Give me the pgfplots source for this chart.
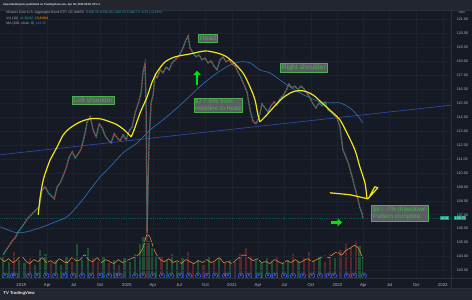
\documentclass[border=0pt]{standalone}
\usepackage{pgfplots}
\pgfplotsset{compat=1.18}
\usepackage{pgfplotstable}
\usepackage{fontspec}
\setmainfont{Liberation Sans}
\usetikzlibrary{arrows.meta}

\definecolor{pagebg}{HTML}{23262F}
\definecolor{chartbg}{HTML}{161A25}
\definecolor{gridc}{HTML}{1E222D}
\definecolor{sepc}{HTML}{2A2E39}
\definecolor{txtc}{HTML}{B2B5BE}
\definecolor{upc}{HTML}{26A69A}
\definecolor{dnc}{HTML}{EF5350}
\definecolor{mac}{HTML}{2E6AB3}
\definecolor{neckc}{HTML}{2F46A6}
\definecolor{yel}{HTML}{F2E61B}
\definecolor{annbg}{HTML}{62666A}
\definecolor{anntxt}{HTML}{4CAF50}
\definecolor{arrg}{HTML}{00E600}
\definecolor{volup}{HTML}{1E6B3A}
\definecolor{voldn}{HTML}{7A2A2E}
\definecolor{volma}{HTML}{E08A3C}
\definecolor{divc}{HTML}{2962FF}
\definecolor{divfill}{HTML}{131A3A}
\definecolor{lastc}{HTML}{089981}
\definecolor{orangev}{HTML}{FF9800}
\definecolor{bluev}{HTML}{3D7FE0}

\pgfplotstableread{
t v
2018.829 104.14
2018.858 104.50
2018.886 104.79
2018.915 105.14
2018.943 105.36
2018.972 105.79
2019.000 106.07
2019.028 106.36
2019.057 106.71
2019.085 106.93
2019.114 107.14
2019.142 107.36
2019.171 107.57
2019.199 108.79
2019.228 109.00
2019.256 108.57
2019.284 108.36
2019.313 108.14
2019.341 109.00
2019.370 109.29
2019.398 109.79
2019.427 110.36
2019.455 111.14
2019.483 111.50
2019.512 111.07
2019.540 111.36
2019.569 111.71
2019.597 112.57
2019.626 113.64
2019.654 114.00
2019.682 113.07
2019.711 112.57
2019.739 113.50
2019.768 113.21
2019.796 112.64
2019.825 112.36
2019.853 112.14
2019.882 112.79
2019.910 112.50
2019.938 112.29
2019.967 112.71
2019.995 112.36
2020.024 113.00
2020.052 113.29
2020.081 114.29
2020.109 114.93
2020.137 115.71
2020.156 117.21
2020.175 117.86
2020.185 114.50
2020.194 105.71
2020.213 112.36
2020.232 115.00
2020.251 115.57
2020.270 117.00
2020.289 116.79
2020.318 117.36
2020.346 117.14
2020.374 117.57
2020.403 117.36
2020.431 117.86
2020.460 118.07
2020.488 118.29
2020.517 118.64
2020.545 119.14
2020.564 119.50
2020.583 119.79
2020.602 118.93
2020.630 118.57
2020.659 118.29
2020.687 118.43
2020.716 118.07
2020.744 118.21
2020.773 117.86
2020.801 118.00
2020.829 117.64
2020.858 117.36
2020.886 118.07
2020.915 118.29
2020.943 117.93
2020.972 118.07
2021.000 117.79
2021.028 117.64
2021.057 117.21
2021.085 116.79
2021.114 116.29
2021.142 115.79
2021.171 114.50
2021.199 113.71
2021.227 113.50
2021.256 113.93
2021.284 114.93
2021.313 114.64
2021.341 114.36
2021.370 114.79
2021.398 115.07
2021.427 114.86
2021.455 115.29
2021.483 115.50
2021.512 115.86
2021.540 116.36
2021.569 116.07
2021.597 116.21
2021.626 115.93
2021.654 116.21
2021.682 116.00
2021.711 115.71
2021.739 115.36
2021.768 114.93
2021.796 114.64
2021.825 115.00
2021.853 114.79
2021.882 115.07
2021.910 114.50
2021.938 114.36
2021.967 114.14
2021.995 113.93
2022.024 113.29
2022.052 111.64
2022.081 111.14
2022.109 110.57
2022.137 109.79
2022.166 108.93
2022.194 108.14
2022.213 107.50
2022.232 107.14
2022.242 106.75
}\price

\pgfplotstableread{
t v
2018.801 106.14
2018.867 105.93
2018.962 105.71
2019.057 105.79
2019.180 106.07
2019.303 106.43
2019.436 106.86
2019.559 107.86
2019.654 108.79
2019.749 109.71
2019.844 110.43
2019.967 111.43
2020.100 112.14
2020.223 113.07
2020.346 113.79
2020.479 114.64
2020.602 115.50
2020.725 116.36
2020.858 117.14
2020.981 117.71
2021.076 117.93
2021.171 117.86
2021.265 117.36
2021.360 117.14
2021.455 116.64
2021.550 116.14
2021.645 115.71
2021.739 115.36
2021.834 115.07
2021.929 115.00
2022.024 115.00
2022.118 114.64
2022.194 114.07
2022.242 113.55
}\ma

\pgfplotstableread{
t v
2019.161 107.00
2019.180 108.29
2019.209 109.50
2019.246 110.36
2019.275 110.93
2019.341 111.86
2019.398 112.71
2019.464 113.21
2019.559 113.64
2019.654 113.86
2019.749 113.86
2019.844 113.64
2019.910 113.43
2019.976 113.07
2020.043 112.57
}\yelA

\pgfplotstableread{
t v
2020.043 112.57
2020.071 113.07
2020.128 114.29
2020.194 115.43
2020.242 116.50
2020.289 117.21
2020.365 117.93
2020.460 118.29
2020.602 118.50
2020.744 118.71
2020.858 118.57
2020.934 118.36
2021.009 117.93
2021.104 117.14
2021.171 116.14
2021.218 115.21
2021.246 114.14
2021.265 113.64
}\yelB

\pgfplotstableread{
t v
2021.265 113.64
2021.313 114.00
2021.389 114.64
2021.483 115.36
2021.578 115.79
2021.673 115.86
2021.768 115.57
2021.863 114.93
2021.957 114.29
2022.024 113.79
2022.090 112.86
2022.166 111.64
2022.213 110.43
2022.261 109.29
2022.280 108.21
}\yelC

\pgfplotstableread{
t v
2021.929 108.57
2022.118 108.43
2022.289 108.14
2022.384 108.93
2022.355 109.00
2022.308 108.36
}\yelD

\pgfplotstableread{
t vol
2018.83 12
2018.88 9
2018.98 10
2019.03 8
2019.13 7
2019.18 15
2019.23 13
2019.33 10
2019.38 7
2019.43 12
2019.53 18
2019.58 10
2019.63 16
2019.78 12
2019.88 10
2019.98 11
2020.03 9
2020.08 13
2020.13 18
2020.16 22
2020.21 20
2020.24 16
2020.28 12
2020.38 10
2020.43 13
2020.48 9
2020.53 11
2020.68 10
2020.78 12
2020.88 11
2020.98 10
2021.23 10
2021.28 8
2021.33 11
2021.38 9
2021.48 8
2021.53 10
2021.63 9
2021.83 12
2021.98 11
2022.21 17
2022.24 12
}\volUp

\pgfplotstableread{
t vol
2018.93 14
2019.08 11
2019.28 8
2019.48 9
2019.68 11
2019.73 9
2019.83 8
2019.93 7
2020.19 27
2020.33 12
2020.58 14
2020.63 8
2020.73 7
2020.83 9
2020.93 8
2021.03 9
2021.08 13
2021.13 16
2021.18 12
2021.43 12
2021.58 13
2021.68 11
2021.73 14
2021.78 10
2021.88 9
2021.93 13
2022.03 15
2022.08 18
2022.13 16
2022.18 20
}\volDn

\pgfplotstableread{
t vol
2018.80 11
2018.84 9
2018.88 10.5
2018.92 8.5
2018.96 10
2019.00 12
2019.04 9.5
2019.08 8
2019.12 10
2019.16 9
2019.20 11
2019.24 8.5
2019.28 9.5
2019.32 8
2019.36 10.5
2019.40 9
2019.44 8.5
2019.48 11
2019.52 9.5
2019.56 10
2019.60 12.5
2019.64 10
2019.68 9
2019.72 11
2019.76 8.5
2019.80 10
2019.84 9
2019.88 8
2019.92 10
2019.96 8.5
2020.00 9.5
2020.04 10.5
2020.08 11.5
2020.12 13
2020.16 17
2020.19 23
2020.22 22
2020.25 17
2020.28 13
2020.32 10
2020.36 9
2020.40 10.5
2020.44 8.5
2020.48 9.5
2020.52 8
2020.56 10
2020.60 9
2020.64 8
2020.68 9.5
2020.72 8.5
2020.76 10
2020.80 8.5
2020.84 9.5
2020.88 11
2020.92 8.5
2020.96 9
2021.00 8
2021.04 10
2021.08 11.5
2021.12 12.5
2021.16 11
2021.20 9.5
2021.24 10.5
2021.28 8.5
2021.32 9
2021.36 8
2021.40 10
2021.44 9
2021.48 8
2021.52 9.5
2021.56 8.5
2021.60 10
2021.64 8.5
2021.68 9.5
2021.72 10.5
2021.76 9
2021.80 10
2021.84 11
2021.88 12
2021.92 11
2021.96 13
2022.00 14
2022.04 12.5
2022.08 15
2022.12 16
2022.16 17.5
2022.20 16
2022.24 10.8
}\volMA

\pgfplotstableread{
t v
2018.848 102.64
2018.921 102.64
2018.943 102.64
2019.076 102.64
2019.152 102.64
2019.237 102.64
2019.322 102.64
2019.408 102.64
2019.493 102.64
2019.578 102.64
2019.664 102.64
2019.749 102.64
2019.834 102.64
2019.910 102.64
2019.934 102.64
2020.081 102.64
2020.156 102.64
2020.251 102.64
2020.336 102.64
2020.422 102.64
2020.507 102.64
2020.592 102.64
2020.678 102.64
2020.763 102.64
2020.839 102.64
2020.934 102.64
2020.962 102.64
2021.085 102.64
2021.161 102.64
2021.256 102.64
2021.341 102.64
2021.408 102.64
2021.493 102.64
2021.578 102.64
2021.673 102.64
2021.758 102.64
2021.834 102.64
2021.919 102.64
2021.967 102.64
2022.090 102.64
2022.156 102.64
2022.251 102.64
}\divs

\begin{document}
\begin{tikzpicture}[x=1pt,y=1pt]
\fill[pagebg] (0,0) rectangle (472,300);
\fill[chartbg] (0,11) rectangle (472,290);

% volume pane
\begin{axis}[at={(0pt,21pt)}, anchor=south west, scale only axis,
  width=452pt, height=269pt,
  xmin=2018.801, xmax=2023.085, ymin=0, ymax=141.6, hide axis]
\addplot[ycomb, volup, line width=2.2pt, opacity=0.7] table[x=t,y=vol] {\volUp};
\addplot[ycomb, voldn, line width=2.2pt, opacity=0.7] table[x=t,y=vol] {\volDn};
\addplot[volma, line width=0.6pt, smooth] table[x=t,y=vol] {\volMA};
\end{axis}

% price pane
\begin{axis}[at={(0pt,21pt)}, anchor=south west, scale only axis,
  width=452pt, height=269pt,
  xmin=2018.801, xmax=2023.085, ymin=102.429, ymax=121.643,
  axis line style={draw=none},
  scaled x ticks=false, scaled y ticks=false,
  xtick={2019,2019.247,2019.496,2019.748,2020,2020.249,2020.497,2020.749,2021,2021.247,2021.496,2021.748,2022,2022.247,2022.496,2022.748,2023},
  xticklabels={2019,Apr,Jul,Oct,2020,Apr,Jul,Oct,2021,Apr,Jul,Oct,2022,Apr,Jul,Oct,2023},
  ytick={103,104,...,121},
  yticklabel pos=right,
  /pgf/number format/assume math mode=true,
  y tick label style={/pgf/number format/.cd, fixed, fixed zerofill, precision=2, /tikz/.cd,
     font=\fontsize{3.7}{4}\selectfont, text=txtc, xshift=1.6pt},
  x tick label style={font=\fontsize{4.3}{5}\selectfont, text=txtc, yshift=-1.2pt},
  major tick length=0pt,
  grid=major, major grid style={gridc, line width=0.5pt},
  clip marker paths=false,
]
\addplot[neckc, line width=0.7pt] coordinates {(2018.801,111.29) (2023.085,114.84)};
\addplot[mac, line width=0.7pt, smooth] table[x=t,y=v] {\ma};
\addplot[lastc, line width=0.4pt, dash pattern=on 0.6pt off 1.2pt, opacity=0.45] coordinates {(2018.801,106.75) (2023.085,106.75)};
\addplot[upc!75!black, line width=1.2pt, opacity=0.9] table[x=t,y=v] {\price};
\addplot[dnc!80!black, line width=1.2pt, dash pattern=on 1.4pt off 1.8pt, opacity=0.9] table[x=t,y=v] {\price};
\addplot[yel, line width=1.2pt, smooth, tension=0.5] table[x=t,y=v] {\yelA};
\addplot[yel, line width=1.2pt, smooth, tension=0.5] table[x=t,y=v] {\yelB};
\addplot[yel, line width=1.2pt, smooth, tension=0.5] table[x=t,y=v] {\yelC};
\addplot[yel, line width=1.2pt, line join=round] table[x=t,y=v] {\yelD};
\addplot[only marks, mark=*, mark size=2.7pt, mark options={fill=divfill, draw=divc, line width=0.6pt}] table[x=t,y=v] {\divs};
\addplot[only marks, mark=text, text mark={D}, text mark as node=true, text mark style={font=\fontsize{2.6}{3}\selectfont\bfseries, text=divc!60!white, inner sep=0pt}] table[x=t,y=v] {\divs};

\node[fill=annbg, fill opacity=0.9, text opacity=1, draw=anntxt, line width=0.4pt, text=anntxt, font=\fontsize{6.8}{7}\selectfont, inner sep=1.4pt] at (axis cs:2019.682,115.21) {Left shoulder};
\node[fill=annbg, fill opacity=0.9, text opacity=1, draw=anntxt, line width=0.4pt, text=anntxt, font=\fontsize{6.8}{7}\selectfont, inner sep=1.4pt] at (axis cs:2020.773,119.64) {Head};
\node[fill=annbg, fill opacity=0.9, text opacity=1, draw=anntxt, line width=0.4pt, text=anntxt, font=\fontsize{6.8}{7}\selectfont, inner sep=1.4pt] at (axis cs:2021.682,117.50) {Right shoulder};
\node[fill=annbg, fill opacity=0.9, text opacity=1, draw=anntxt, line width=0.4pt, text=anntxt, font=\fontsize{6.3}{7}\selectfont, inner sep=1.2pt, align=left] at (axis cs:2020.867,114.86) {\$7 / -6\% from\\neckline to head};
\node[fill=annbg, fill opacity=0.9, text opacity=1, draw=anntxt, line width=0.4pt, text=anntxt, font=\fontsize{6.3}{7}\selectfont, inner sep=1.2pt, align=left] at (axis cs:2022.592,107.10) {\$8 / -7\% drawdown\\Pattern complete};

\draw[arrg, line width=2.4pt, -{Triangle[width=7.5pt,length=4.5pt]}] (axis cs:2020.668,116.30) -- (axis cs:2020.668,117.30);
\draw[arrg, line width=2.4pt, -{Triangle[width=7.5pt,length=4.5pt]}] (axis cs:2021.938,106.45) -- (axis cs:2022.045,106.45);
\end{axis}

% separators
\draw[sepc, line width=0.6pt] (0,290) -- (472,290);
\draw[sepc, line width=0.6pt] (0,21) -- (472,21);
\draw[sepc, line width=0.6pt] (452,11) -- (452,290);
\draw[sepc, line width=0.6pt] (0,11) -- (472,11);

% right price labels
\node[font=\fontsize{3}{3}\selectfont, text=txtc] at (462,287.5) {USD};
\node[fill=lastc, text=white, font=\fontsize{3.5}{4}\selectfont, inner sep=0.9pt] at (460.5,81.5) {106.75};
\node[fill=lastc, text=white, font=\fontsize{3.3}{4}\selectfont, inner sep=0.9pt] at (445,81.5) {AGG};

% header and legend
\node[anchor=west, inner sep=0, font=\fontsize{2.7}{3}\selectfont\bfseries, text=white!85!gray] at (3,295) {ImportantImports published on TradingView.com, Apr 05, 2022 09:56 UTC-4};
\node[anchor=west, inner sep=0, font=\fontsize{3.4}{4}\selectfont, text=txtc] at (6,287.3) {iShares Core U.S. Aggregate Bond ETF, 1D, AMEX\ \ \textcolor{upc}{O106.35\ H106.95\ L106.25\ C106.75\ -0.35 (-0.33\%)}};
\node[anchor=west, inner sep=0, font=\fontsize{3.4}{4}\selectfont, text=txtc] at (6,281.7) {Vol (10)\ \ \textcolor{upc}{11.982M}\ \ \textcolor{orangev}{10.809M}};
\node[anchor=west, inner sep=0, font=\fontsize{3.4}{4}\selectfont, text=txtc] at (6,276.4) {MA (200, close, 0)\ \ \textcolor{bluev}{113.55}};

% footer
\node[anchor=west, inner sep=0, font=\fontsize{4.2}{5}\selectfont\bfseries, text=white!85!gray] at (3,6) {TV\ TradingView};
\end{tikzpicture}
\end{document}
